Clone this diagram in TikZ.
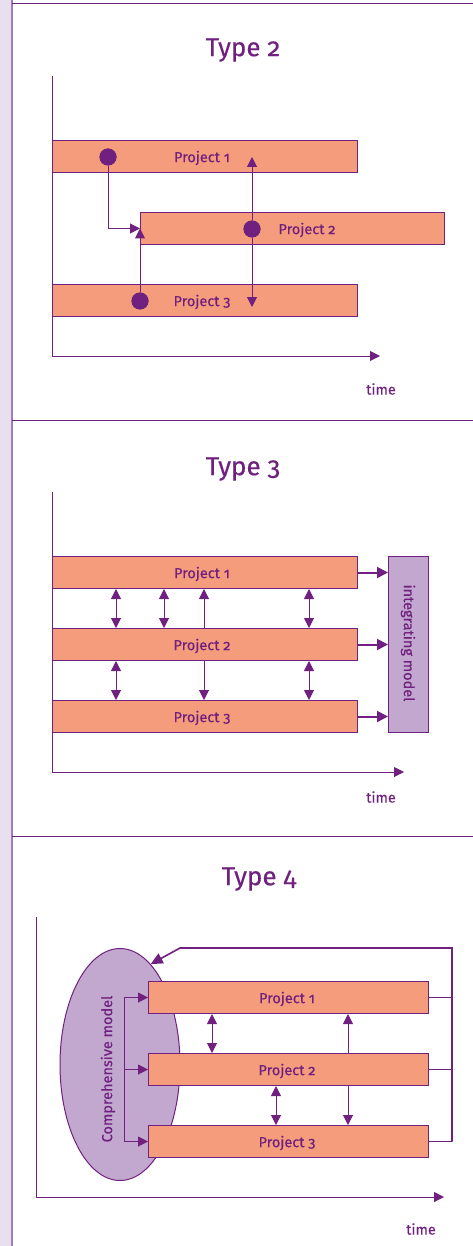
\documentclass[tikz,border=0pt]{standalone}
\usepackage{fontspec}
\setmainfont{Fira Sans}[Numbers=OldStyle,FakeBold=0.4]
\usetikzlibrary{arrows.meta,shapes.geometric}
\definecolor{pur}{HTML}{70207E}
\definecolor{org}{HTML}{F49C7B}
\definecolor{lav}{HTML}{C2A8CE}
\definecolor{strip}{HTML}{E8E0EE}
\definecolor{edge}{HTML}{A27BB8}
\begin{document}
\begin{tikzpicture}[x=1pt,y=-1pt,
  proj/.style={draw=pur,fill=org,line width=1pt,minimum height=32pt,inner sep=0pt,anchor=north west,text=pur,font=\fontsize{14.5}{17}\selectfont},
  lbl/.style={text=pur,font=\fontsize{14.5}{17}\selectfont,inner sep=0pt},
  ttl/.style={text=pur,font=\fontsize{26}{30}\selectfont,inner sep=0pt},
  ln/.style={draw=pur,line width=1pt},
  arr/.style={ln,-{Triangle[length=10pt,width=10pt]}},
  darr/.style={ln,{Triangle[length=10pt,width=10pt]}-{Triangle[length=10pt,width=10pt]}},
  thickarr/.style={draw=pur,line width=2pt,-{Triangle[length=11pt,width=11pt]}},
  frame/.style={draw=pur,line width=1.6pt},
  dot/.style={circle,fill=pur,minimum size=17pt,inner sep=0pt},
  sep/.style={draw=pur,line width=1pt}]
\useasboundingbox (0,0) rectangle (473,1246);
% page frame
\fill[strip] (0,0) rectangle (12,1246);
\draw[edge,line width=1.5pt] (12,0) -- (12,1246);
\draw[sep] (12,4) -- (473,4);
\draw[sep] (12,420) -- (473,420);
\draw[sep] (12,836) -- (473,836);

% ================= Type 2
\node[ttl] (t2) at (243,50) {Type 2};
\coordinate (y2) at (52,76);
\coordinate (o2) at (52,356);
\coordinate (x2) at (380,356);
\draw[ln] (y2) -- (o2);
\draw[arr] (o2) -- (x2);
\node[lbl] (time2) at (381,389) {time};
\node[proj,minimum width=305pt] (a1) at (52,140) {};
\node[lbl] (a1l) at (202,158) {Project 1};
\node[proj,minimum width=304pt] (a2) at (140,212) {};
\node[lbl] (a2l) at (307,230) {Project 2};
\node[proj,minimum width=305pt] (a3) at (52,284) {};
\node[lbl] (a3l) at (202,302) {Project 3};
\node[dot] (d1) at (108,157) {};
\node[dot] (d3) at (140,301) {};
\node[dot] (d2) at (252,229) {};
\coordinate (u2) at (252,157);
\coordinate (w2) at (252,307);
\draw[arr] (d1) |- (a2.west);
\draw[arr] (d3) -- (a2.west);
\draw[arr] (d2) -- (u2);
\draw[arr] (d2) -- (w2);
\node[dot] at (d1) {};
\node[dot] at (d3) {};
\node[dot] at (d2) {};

% ================= Type 3
\node[ttl] (t3) at (243,469) {Type 3};
\coordinate (y3) at (52,492);
\coordinate (o3) at (52,772);
\coordinate (x3) at (404,772);
\draw[ln] (y3) -- (o3);
\draw[arr] (o3) -- (x3);
\node[lbl] (time3) at (381,797) {time};
\node[proj,minimum width=305pt] (b1) at (52,556) {};
\node[lbl] (b1l) at (202,574) {Project 1};
\node[proj,minimum width=305pt] (b2) at (52,628) {};
\node[lbl] (b2l) at (202,646) {Project 2};
\node[proj,minimum width=305pt] (b3) at (52,700) {};
\node[lbl] (b3l) at (202,718) {Project 3};
\node[draw=pur,fill=lav,line width=1pt,minimum width=40pt,minimum height=176pt,anchor=north west,inner sep=0pt] (im) at (388,556) {};
\node[lbl,rotate=-90] (iml) at (408,643) {integrating model};
\draw[thickarr] (b1.east) -- (b1.east -| im.west);
\draw[thickarr] (b2.east) -- (b2.east -| im.west);
\draw[thickarr] (b3.east) -- (b3.east -| im.west);
\coordinate (v1) at (116,0);
\coordinate (v2) at (164,0);
\coordinate (v3) at (204,0);
\coordinate (v4) at (309,0);
\draw[darr] (v1 |- b1.south) -- (v1 |- b2.north);
\draw[darr] (v2 |- b1.south) -- (v2 |- b2.north);
\draw[arr] (v3 |- b2.north) -- (v3 |- b1.south);
\draw[darr] (v4 |- b1.south) -- (v4 |- b2.north);
\draw[darr] (v1 |- b2.south) -- (v1 |- b3.north);
\draw[arr] (v3 |- b2.south) -- (v3 |- b3.north);
\draw[darr] (v4 |- b2.south) -- (v4 |- b3.north);

% ================= Type 4
\node[ttl] (t4) at (259,879) {Type 4};
\coordinate (y4) at (36,917);
\coordinate (o4) at (36,1197);
\coordinate (x4) at (444,1197);
\draw[ln] (y4) -- (o4);
\draw[arr] (o4) -- (x4);
\node[lbl] (time4) at (421,1229) {time};
\node[ellipse,draw=pur,fill=lav,line width=1pt,minimum width=120pt,minimum height=232pt,inner sep=0pt] (E) at (120,1064.5) {};
\node[lbl,rotate=90] (El) at (108,1069) {Comprehensive model};
\node[proj,minimum width=280pt] (c1) at (148,981) {};
\node[lbl] (c1l) at (287,999) {Project 1};
\node[proj,minimum width=280pt] (c2) at (148,1053) {};
\node[lbl] (c2l) at (287,1071) {Project 2};
\node[proj,minimum width=280pt] (c3) at (148,1125) {};
\node[lbl] (c3l) at (287,1143) {Project 3};
\coordinate (bx) at (124,0);
\draw[ln] (c1.west -| bx) -- (c3.west -| bx);
\draw[arr] (c1.west -| bx) -- (c1.west);
\draw[arr] (c2.west -| bx) -- (c2.west);
\draw[arr] (c3.west -| bx) -- (c3.west);
\coordinate (h1) at (212,0);
\coordinate (h2) at (276,0);
\coordinate (h3) at (348,0);
\draw[darr] (h1 |- c1.south) -- (h1 |- c2.north);
\draw[arr] (h3 |- c2.north) -- (h3 |- c1.south);
\draw[darr] (h2 |- c2.south) -- (h2 |- c3.north);
\draw[arr] (h3 |- c2.south) -- (h3 |- c3.north);
\coordinate (rtop) at (452,948);
\coordinate (knee) at (180,948);
\draw[frame] (c1.east) -- (c1.east -| rtop);
\draw[frame] (c2.east) -- (c2.east -| rtop);
\draw[frame] (c3.east) -- (c3.east -| rtop);
\draw[frame,-{Triangle[length=12pt,width=11pt]}] (c3.east -| rtop) -- (rtop) -- (knee) -- (E.73);
\end{tikzpicture}
\end{document}
